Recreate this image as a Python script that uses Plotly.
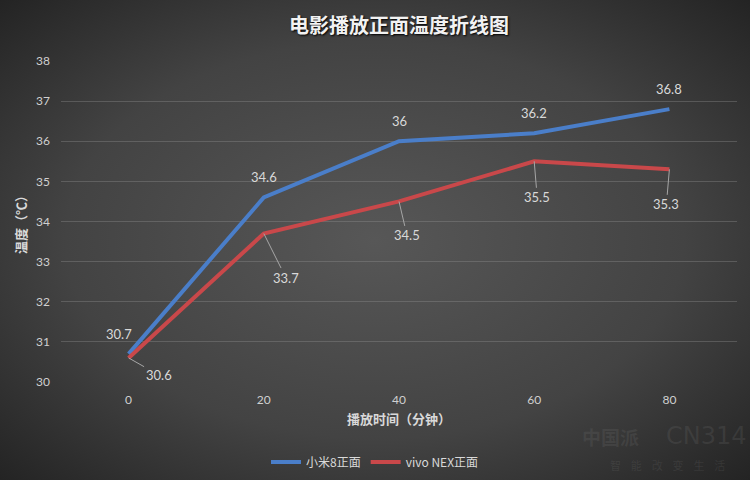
import plotly.graph_objects as go
import urllib.parse

minutes = [0, 20, 40, 60, 80]
xiaomi = [30.7, 34.6, 36.0, 36.2, 36.8]
vivo = [30.6, 33.7, 34.5, 35.5, 35.3]
series_names = ["小米8正面", "vivo NEX正面"]
y_ticks = [30, 31, 32, 33, 34, 35, 36, 37, 38]

BLUE = "#4A7EC9"
RED = "#C9484A"
FONT = "Lato, 'Noto Sans CJK SC', sans-serif"
CJK = "'Noto Sans CJK SC', sans-serif"

W, H = 750, 480
L, R, T, B = 61, 13, 61, 98
pw, ph = W - L - R, H - T - B

svg = (
    "<svg xmlns='http://www.w3.org/2000/svg' width='750' height='480'>"
    "<defs><radialGradient id='g' cx='50%' cy='50%' r='75%'>"
    "<stop offset='0%' stop-color='#575757'/>"
    "<stop offset='55%' stop-color='#434343'/>"
    "<stop offset='100%' stop-color='#1f1f1f'/>"
    "</radialGradient></defs>"
    "<rect width='750' height='480' fill='url(#g)'/></svg>"
)
bg_uri = "data:image/svg+xml;charset=utf-8," + urllib.parse.quote(svg)

fig = go.Figure()
fig.add_trace(go.Scatter(x=minutes, y=xiaomi, mode="lines", name=series_names[0],
                         line=dict(color=BLUE, width=4)))
fig.add_trace(go.Scatter(x=minutes, y=vivo, mode="lines", name=series_names[1],
                         line=dict(color=RED, width=4)))

ann = []
lab_font = dict(family=FONT, size=13, color="#d9d9d9")
blue_shift = [(-10, 20), (0, 20), (0, 20), (0, 20), (0, 20)]
for x, y, (dx, dy) in zip(minutes, xiaomi, blue_shift):
    ann.append(dict(x=x, y=y, xref="x", yref="y", text=f"{y:g}", showarrow=False,
                    xshift=dx, yshift=dy, font=lab_font))
red_off = [(30, 17), (22, 44), (8, 34), (3, 36), (-3, 35)]
for x, y, (ax, ay) in zip(minutes, vivo, red_off):
    ann.append(dict(x=x, y=y, xref="x", yref="y", text=f"{y:g}", showarrow=True,
                    ax=ax, ay=ay, arrowhead=0, arrowwidth=1, arrowcolor="#a6a6a6",
                    standoff=0, startstandoff=0, font=lab_font))

wm = "rgba(110,110,110,0.22)"
ann.append(dict(x=(610 - L) / pw, y=1 - (436 - T) / ph, xref="paper", yref="paper",
                text="<b>中国派</b>", showarrow=False,
                font=dict(family=CJK, size=19, color=wm),
                xanchor="center", yanchor="middle"))
ann.append(dict(x=(706 - L) / pw, y=1 - (436 - T) / ph, xref="paper", yref="paper",
                text="CN314", showarrow=False,
                font=dict(family="'DejaVu Sans'", size=24, color=wm),
                xanchor="center", yanchor="middle"))
ann.append(dict(x=(667 - L) / pw, y=1 - (465 - T) / ph, xref="paper", yref="paper",
                text="智&nbsp;&nbsp;&nbsp;&nbsp;能&nbsp;&nbsp;&nbsp;&nbsp;改&nbsp;&nbsp;&nbsp;&nbsp;变&nbsp;&nbsp;&nbsp;&nbsp;生&nbsp;&nbsp;&nbsp;&nbsp;活",
                showarrow=False, font=dict(family=CJK, size=11, color=wm),
                xanchor="center", yanchor="middle"))

fig.update_layout(
    width=W, height=H,
    margin=dict(l=L, r=R, t=T, b=B, autoexpand=False),
    paper_bgcolor="#3a3a3a",
    plot_bgcolor="rgba(0,0,0,0)",
    images=[dict(source=bg_uri, xref="paper", yref="paper",
                 x=-L / pw, y=1 + T / ph, sizex=W / pw, sizey=H / ph,
                 xanchor="left", yanchor="top", sizing="stretch", layer="below")],
    title=dict(text="<b>电影播放正面温度折线图</b>", x=0.5, xref="paper", y=1 - 26 / H,
               yref="container", xanchor="center", yanchor="middle",
               font=dict(family=CJK, size=20, color="#f2f2f2",
                         shadow="1px 1px 2px #000000")),
    xaxis=dict(range=[-10, 90], tickvals=minutes, ticktext=[str(m) for m in minutes],
               showgrid=False, zeroline=False, showline=False, ticks="", automargin=False,
               ticklabelstandoff=9,
               tickfont=dict(family=FONT, size=12, color="#d0d0d0"),
               title=dict(text="<b>播放时间（分钟）</b>", standoff=8,
                          font=dict(family=CJK, size=13, color="#d9d9d9"))),
    yaxis=dict(range=[30, 38], tickvals=y_ticks, showgrid=True, automargin=False,
               gridcolor="rgba(150,150,150,0.35)", gridwidth=1, zeroline=False,
               showline=False, ticks="", ticklabelstandoff=10,
               tickfont=dict(family=FONT, size=12, color="#d0d0d0"),
               title=dict(text="<b>温度（℃）</b>", standoff=6,
                          font=dict(family=CJK, size=13, color="#d9d9d9"))),
    legend=dict(orientation="h", x=0.5, xref="container", xanchor="center",
                y=1 - 462 / H, yref="container",
                yanchor="middle", font=dict(family=CJK, size=12, color="#d9d9d9"),
                itemwidth=30, tracegroupgap=0, bgcolor="rgba(0,0,0,0)"),
    annotations=ann,
    showlegend=True,
)
fig.write_html("out.html")
